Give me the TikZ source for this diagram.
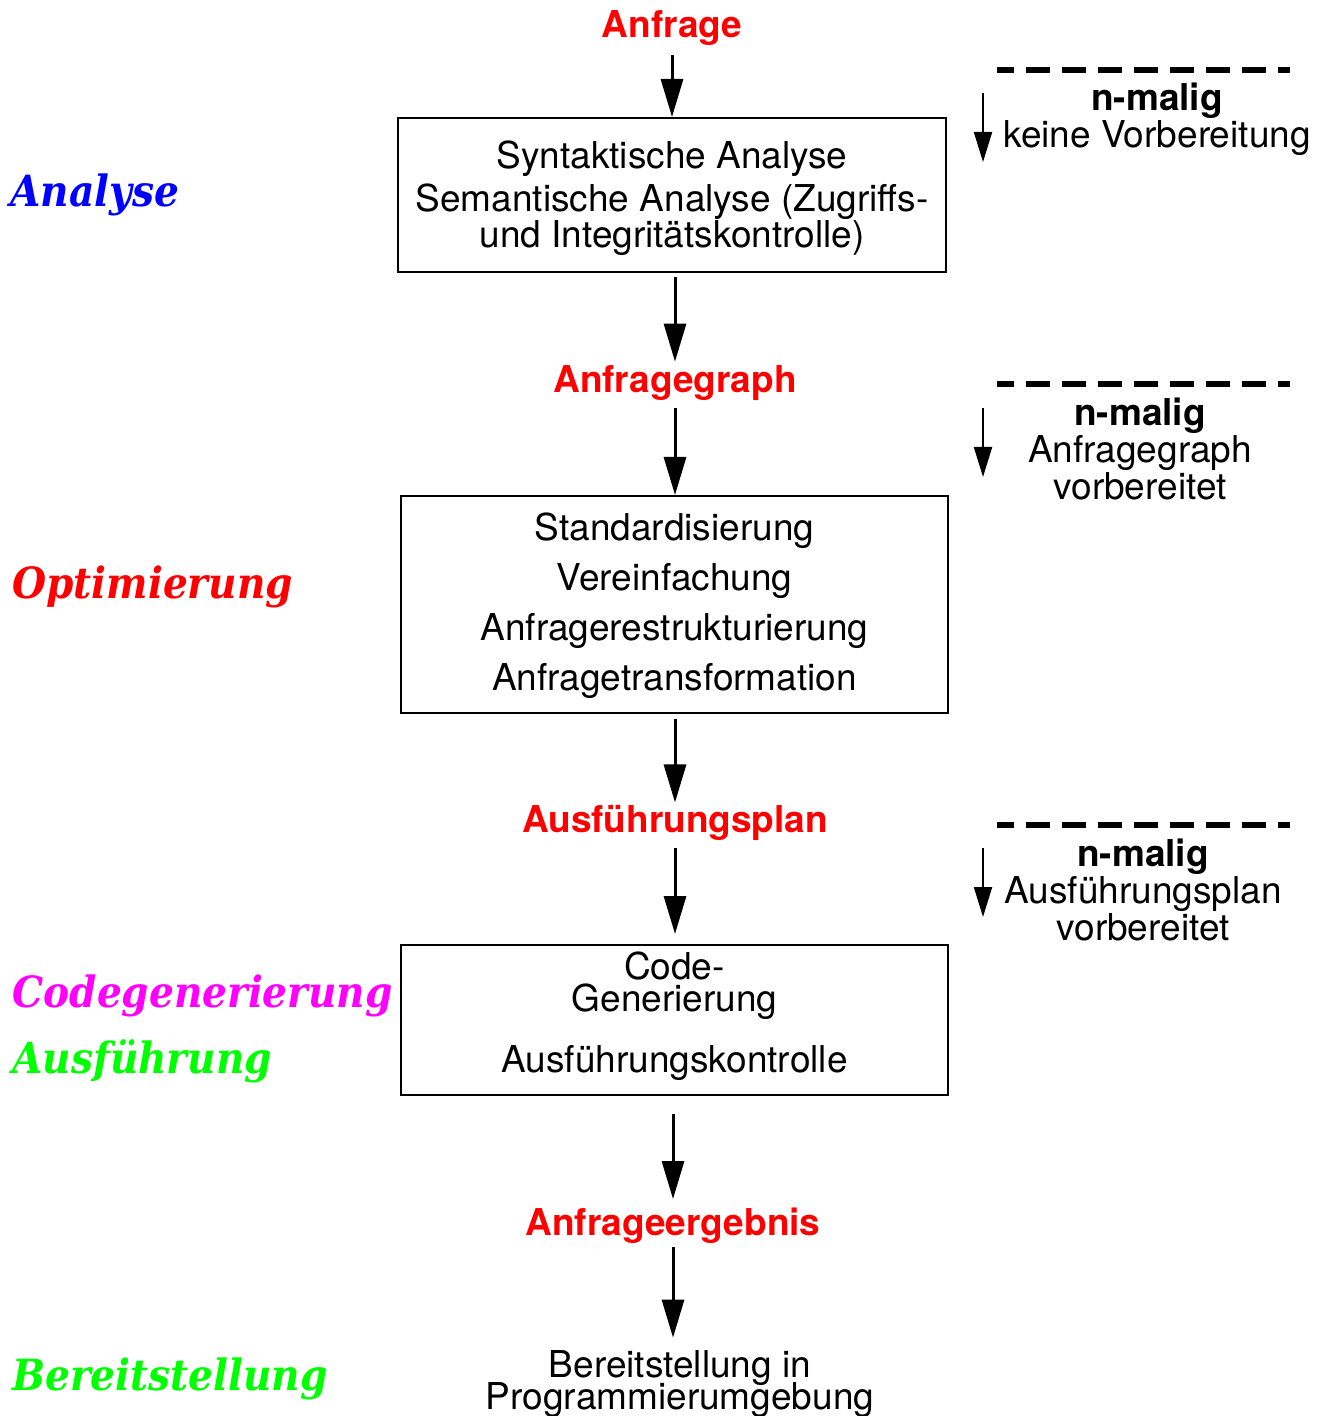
\documentclass[tikz,border=0pt]{standalone}
\usepackage{fontspec}
\setmainfont{TeX Gyre Heros}
\newfontfamily\phasefont{DejaVu Serif}[FakeStretch=0.91]
\usetikzlibrary{arrows.meta}

\definecolor{phaseblue}{RGB}{0,0,255}
\definecolor{phasered}{RGB}{255,0,0}
\definecolor{phasemagenta}{RGB}{255,0,255}
\definecolor{phasegreen}{RGB}{0,255,0}

% close line spacing that may let lines touch
\newcommand\tightlines{\fontsize{18.5}{16}\selectfont
  \setlength{\lineskiplimit}{-20pt}\setlength{\lineskip}{0pt}}

\tikzset{
  stagebox/.style={draw, line width=1pt, inner sep=0pt},
  boxtext/.style={inner sep=0pt, anchor=base, align=center,
    font=\fontsize{18.5}{21.5}\selectfont},
  result/.style={inner sep=0pt, anchor=base, text=phasered,
    font=\fontsize{18.5}{18.5}\selectfont\bfseries},
  phase/.style={inner sep=0pt, anchor=base west,
    font=\fontsize{21.5}{21.5}\selectfont\phasefont\bfseries\itshape},
  flow/.style={line width=1.5pt, -{Triangle[length=19pt,width=11pt]}},
  reuse/.style={line width=1pt, -{Triangle[length=15pt,width=9pt]}},
  cut/.style={line width=3pt, dash pattern=on 12pt off 6pt, dash phase=3.5pt},
  note/.style={inner sep=0pt, anchor=base, align=center,
    font=\fontsize{18.5}{18.5}\selectfont},
  tight/.style={font=\tightlines},
}

\begin{document}
\begin{tikzpicture}[x=0.5pt, y=-0.5pt]
\useasboundingbox (0,0) rectangle (1328,1416);

% processing stages
\node[result] (anfrage) at (672,38) {Anfrage};

\node[stagebox, minimum width=274pt, minimum height=77pt] (analyse) at (672,195) {};
\node[boxtext] (analysetext) at (672,248)
  {Syntaktische Analyse\\Semantische Analyse (Zugriffs-\\[-3.5pt]und Integritätskontrolle)};

\node[result] (graph) at (675,393) {Anfragegraph};

\node[stagebox, minimum width=273.5pt, minimum height=108.5pt] (optim) at (674.5,604.5) {};
\node[boxtext, font=\fontsize{18.5}{25}\selectfont] (optimtext) at (674.5,690)
  {Standardisierung\\Vereinfachung\\Anfragerestrukturierung\\Anfragetransformation};

\node[result] (plan) at (675,832) {Ausführungsplan};

\node[stagebox, minimum width=273.5pt, minimum height=75pt] (code) at (674.5,1020) {};
\node[boxtext, tight] (codetext) at (674.5,1072)
  {Code-\\Generierung\\[14.5pt]Ausführungskontrolle};

\node[result] (ergebnis) at (673,1235) {Anfrageergebnis};
\node[note, tight] (bereit) at (680,1409)
  {Bereitstellung in\\Programmierumgebung};

% flow of the query
\draw[flow, shorten <=4.5pt] (anfrage.south) -- (analyse.north);
\draw[flow, shorten <=2pt, shorten >=2pt] (graph.north |- analyse.south) -- (graph.north);
\draw[flow, shorten <=3.5pt] (graph.south) -- (graph.south |- optim.north);
\draw[flow, shorten <=2.5pt, shorten >=1pt] (plan.north |- optim.south) -- (plan.north);
\draw[flow, shorten <=4pt, shorten >=5pt] (plan.south) -- (plan.south |- code.north);
\draw[flow, shorten <=9pt, shorten >=4pt] (ergebnis.north |- code.south) -- (ergebnis.north);
\draw[flow, shorten <=2pt, shorten >=6pt] (ergebnis.south) -- (ergebnis.south |- bereit.north);

% phases
\node[phase, text=phaseblue] (pa) at (10,207) {Analyse};
\node[phase, text=phasered] (po) at (12,598) {Optimierung};
\node[phase, text=phasemagenta] (pc) at (12,1007) {Codegenerierung};
\node[phase, text=phasegreen] (pe) at (12,1073) {Ausführung};
\node[phase, text=phasegreen] (pb) at (12,1390) {Bereitstellung};

% repeated execution
\draw[cut] (997,70) -- (1290,70);
\coordinate (r1a) at (983,93);
\coordinate (r1b) at (983,162);
\draw[reuse] (r1a) -- (r1b);
\node[note] (n1) at (1157,148) {\textbf{n-malig}\\keine Vorbereitung};

\draw[cut] (997,384) -- (1290,384);
\coordinate (r2a) at (983,408);
\coordinate (r2b) at (983,477);
\draw[reuse] (r2a) -- (r2b);
\node[note] (n2) at (1140,500) {\textbf{n-malig}\\Anfragegraph\\vorbereitet};

\draw[cut] (997,825) -- (1290,825);
\coordinate (r3a) at (983,848);
\coordinate (r3b) at (983,917);
\draw[reuse] (r3a) -- (r3b);
\node[note] (n3) at (1143,940) {\textbf{n-malig}\\Ausführungsplan\\vorbereitet};
\end{tikzpicture}
\end{document}
